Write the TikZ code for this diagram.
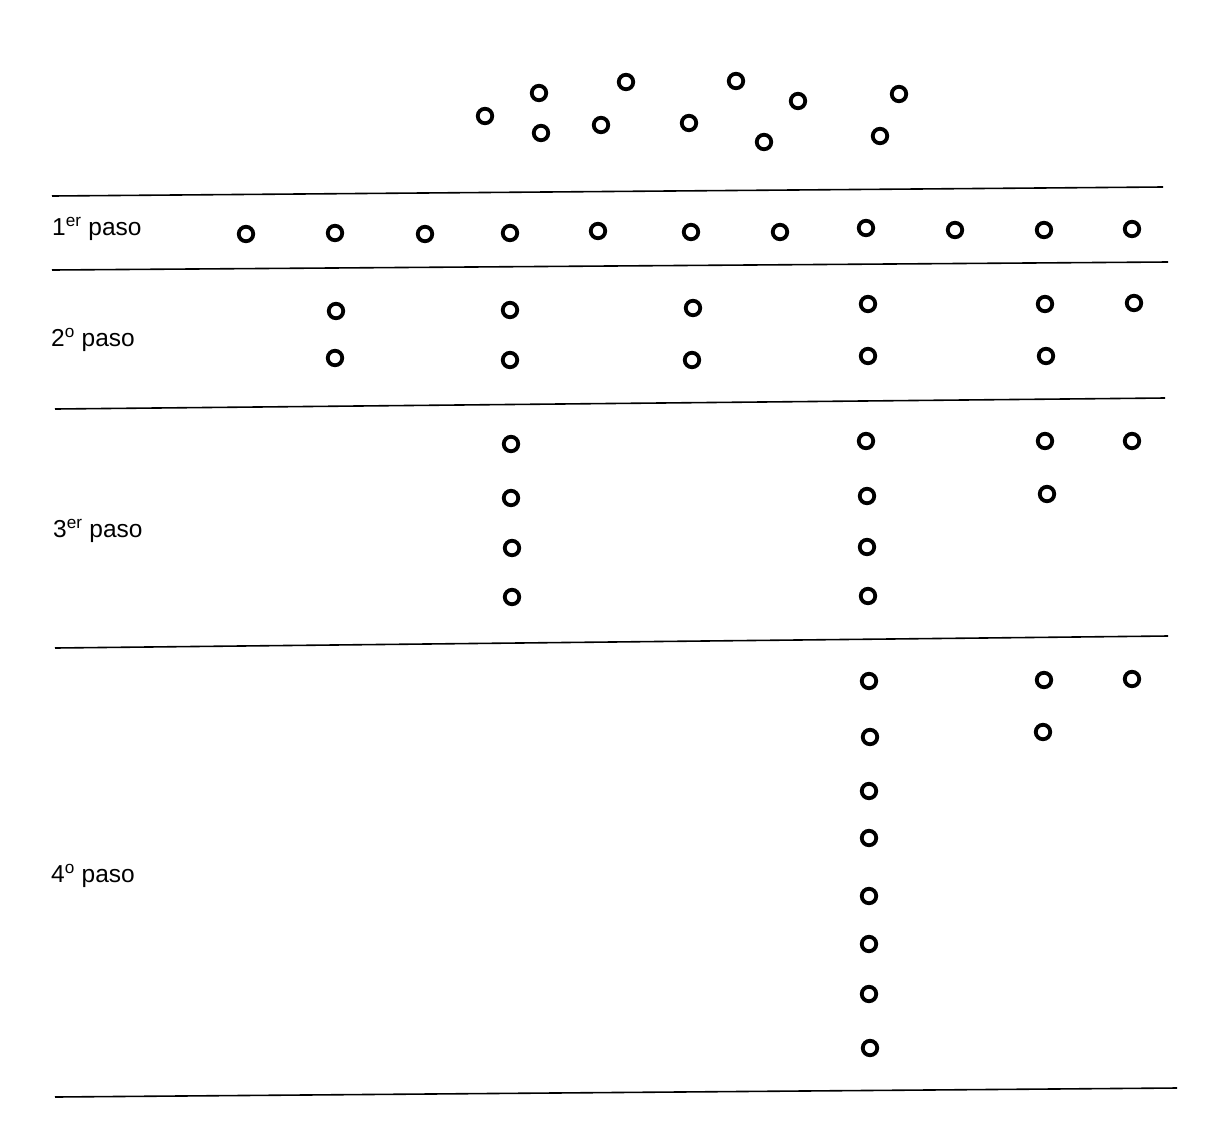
\documentclass[tikz,border=0pt]{standalone}
\usepackage{fontspec}
\setmainfont{Liberation Sans}
\begin{document}
\begin{tikzpicture}[x=1pt,y=-1pt,
  dot/.style={circle,draw,line width=3.8pt,minimum size=14.5pt,inner sep=0pt},
  rule/.style={line width=1.6pt},
  lbl/.style={anchor=west,inner sep=0pt,font=\fontsize{24.5}{28}\selectfont}]
\useasboundingbox[fill=white] (0,0) rectangle (1216,1125);
% rules
\coordinate (a1) at (52,196); \coordinate (b1) at (1163,187);
\coordinate (a2) at (52,270); \coordinate (b2) at (1168,262);
\coordinate (a3) at (55,409); \coordinate (b3) at (1165,398);
\coordinate (a4) at (55,648); \coordinate (b4) at (1168,636);
\coordinate (a5) at (55,1097); \coordinate (b5) at (1177,1088);
\foreach \i in {1,...,5} \draw[rule] (a\i) -- (b\i);
% labels
\node[lbl] (l1) at (52,229) {1\textsuperscript{er} paso};
\node[lbl] (l2) at (51,340) {2\textsuperscript{o} paso};
\node[lbl] (l3) at (53,531) {3\textsuperscript{er} paso};
\node[lbl] (l4) at (51,876) {4\textsuperscript{o} paso};
% top scatter
\foreach \x/\y [count=\k] in {485/116,539/93,541/133,601/125,626/82,689/123,736/81,764/142,798/101,880/136,899/94}
  \node[dot] (t\k) at (\x,\y) {};
% step 1
\foreach \x/\y [count=\k] in {246/234,335/233,425/234,510/233,598/231,691/232,780/232,866/228,955/230,1044/230,1132/229}
  \node[dot] (p\k) at (\x,\y) {};
% step 2
\foreach \x/\y [count=\k] in {336/311,335/358,510/310,510/360,693/308,692/360,868/304,868/356,1045/304,1046/356,1134/303}
  \node[dot] (q\k) at (\x,\y) {};
% step 3
\foreach \x/\y [count=\k] in {511/444,511/498,512/548,512/597,866/441,867/496,867/547,868/596,1045/441,1047/494,1132/441}
  \node[dot] (r\k) at (\x,\y) {};
% step 4
\foreach \x/\y [count=\k] in {869/681,870/737,869/791,869/838,869/896,869/944,869/994,870/1048,1044/680,1043/732,1132/679}
  \node[dot] (s\k) at (\x,\y) {};
\end{tikzpicture}
\end{document}
